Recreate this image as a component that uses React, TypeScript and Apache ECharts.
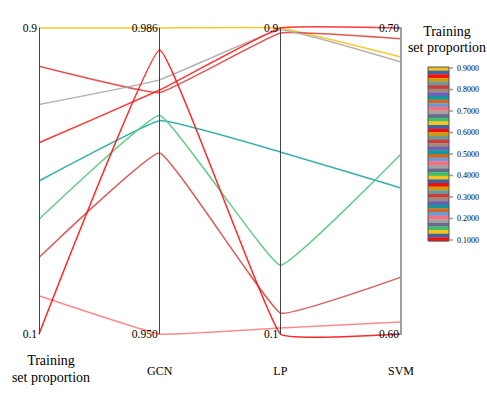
import React, { useEffect, useRef } from "react";
import * as echarts from "echarts";

// ---- data ----
const axisNames = ["Training\nset proportion", "GCN", "LP", "SVM"];
const trainingValues = [0.9, 0.8, 0.7, 0.6, 0.5, 0.4, 0.3, 0.2, 0.1];
const gcnValues = [0.986, 0.9784, 0.9799, 0.9787, 0.9751, 0.9757, 0.9713, 0.95, 0.9834];
const lpValues = [0.9, 0.887, 0.895, 0.9, 0.576, 0.28, 0.155, 0.116, 0.1];
const svmValues = [0.6905, 0.6965, 0.6889, 0.7, 0.6477, 0.6588, 0.6186, 0.6039, 0.6];
const lineColors = ["#f7c31a", "#e04444", "#aaaaaa", "#ff2222", "#22a6a6", "#52c67a", "#d44a4a", "#ff8080", "#ff1010"];
const axisMins = [0.1, 0.95, 0.1, 0.6];
const axisMaxs = [0.9, 0.986, 0.9, 0.7];
const axisDecimals = [1, 3, 1, 2];
const legendTickLabels = ["0.9000", "0.8000", "0.7000", "0.6000", "0.5000", "0.4000", "0.3000", "0.2000", "0.1000"];
const legendPalette = [
  "#f7c31a", "#3b64a6", "#f80d0d", "#d29b0c", "#6b9a98", "#c83c3c", "#a58878", "#6b5fb8",
  "#0f9a9a", "#d2691e", "#6a9bd6", "#ff6b7a", "#a3a3a3", "#6a6a8f", "#3cc06a",
];
const legendStripeCount = 48;

const FONT = "Liberation Serif";

export default function App() {
  const ref = useRef<HTMLDivElement>(null);
  useEffect(() => {
    if (!ref.current) return;
    const chart = echarts.init(ref.current, undefined, { renderer: "svg" });

    const parallelAxis = axisNames.map((name, i) => ({
      dim: i,
      name,
      min: axisMins[i],
      max: axisMaxs[i],
      nameLocation: "start",
      nameGap: i === 0 ? 18 : 28,
      nameTextStyle: {
        fontFamily: FONT,
        fontSize: i === 0 ? 14 : 12,
        color: "#000",
        lineHeight: 17,
        padding: i === 0 ? [0, 0, 0, 24] : 0,
      },
      axisLine: {
        lineStyle: { color: i === 3 ? "#a0a0a0" : "#444", width: i === 3 ? 2 : 1 },
      },
      axisTick: { show: false },
      splitLine: { show: false },
      axisLabel: {
        showMinLabel: true,
        showMaxLabel: true,
        fontFamily: FONT,
        fontSize: 11.5,
        color: "#000",
        margin: -2,
        align: "right",
        formatter: (v: number) =>
          Math.abs(v - axisMins[i]) < 1e-9 || Math.abs(v - axisMaxs[i]) < 1e-9
            ? v.toFixed(axisDecimals[i])
            : "",
      },
    }));

    const data = trainingValues.map((t, k) => ({
      value: [t, gcnValues[k], lpValues[k], svmValues[k]],
      lineStyle: { color: lineColors[k] },
    }));

    const barLeft = 428;
    const barTop = 67;
    const barWidth = 21;
    const barHeight = 174;
    const stripeH = barHeight / legendStripeCount;
    const stripes: any[] = [];
    for (let s = 0; s < legendStripeCount; s++) {
      stripes.push({
        type: "rect",
        shape: { x: barLeft, y: barTop + s * stripeH, width: barWidth, height: stripeH + 0.3 },
        style: { fill: legendPalette[s % legendPalette.length] },
        silent: true,
      });
    }
    stripes.push({
      type: "rect",
      shape: { x: barLeft, y: barTop, width: barWidth, height: barHeight },
      style: { fill: "none", stroke: "#555", lineWidth: 1 },
      silent: true,
    });
    const tickTop = 68;
    const tickStep = (240 - 68) / (legendTickLabels.length - 1);
    legendTickLabels.forEach((lab, j) => {
      const y = tickTop + j * tickStep;
      stripes.push({
        type: "line",
        shape: { x1: barLeft + barWidth, y1: y, x2: barLeft + barWidth + 4, y2: y },
        style: { stroke: "#999", lineWidth: 1.5 },
        silent: true,
      });
      stripes.push({
        type: "text",
        x: barLeft + barWidth + 8,
        y,
        style: {
          text: lab,
          fontFamily: FONT,
          fontSize: 8,
          fill: "#000",
          align: "left",
          verticalAlign: "middle",
        },
        silent: true,
      });
    });
    stripes.push({
      type: "text",
      x: 447,
      y: 39,
      style: {
        text: "Training\nset proportion",
        fontFamily: FONT,
        fontSize: 14,
        lineHeight: 16,
        fill: "#000",
        align: "center",
        verticalAlign: "middle",
      },
      silent: true,
    });

    chart.setOption({
      animation: false,
      parallel: { left: 39, right: 86, top: 28, bottom: 64 },
      parallelAxis,
      series: [
        {
          type: "parallel",
          smooth: 0.09,
          lineStyle: { width: 1.5, opacity: 0.9 },
          data,
        },
      ],
      graphic: stripes,
    });
    return () => chart.dispose();
  }, []);
  return (
    <div
      ref={ref}
      style={{ position: "absolute", left: 0, top: 0, width: 487, height: 398, background: "#fff" }}
    />
  );
}
